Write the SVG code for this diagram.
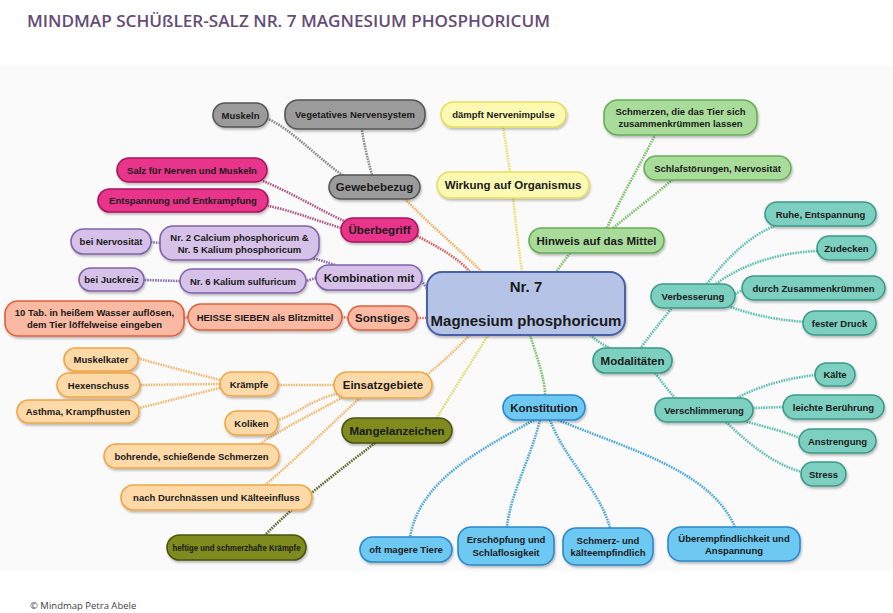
<svg xmlns="http://www.w3.org/2000/svg" width="893" height="613" viewBox="0 0 893 613">
<defs>
<filter id="sh" x="-20%" y="-30%" width="140%" height="170%"><feDropShadow dx="1" dy="2" stdDeviation="1.2" flood-color="#000" flood-opacity="0.25"/></filter>
<style>
text{font-family:"Liberation Sans",Arial,sans-serif;font-weight:bold;text-anchor:middle;fill:#1a1a1a;font-size:9.5px}
.t2{font-size:11.5px}
rect{stroke-width:1.6;filter:url(#sh)}
.gray{fill:#9b9b9b;stroke:#555}
.yel{fill:#fcfab2;stroke:#e6de5c}
.grn{fill:#a9dc9a;stroke:#66ad58}
.teal{fill:#7dcfc0;stroke:#3a9a88}
.blue{fill:#6ec9f2;stroke:#2a88cc}
.oli{fill:#7f8b1d;stroke:#4a5212}
.org{fill:#fdd9a8;stroke:#f0a545}
.mag{fill:#e8368b;stroke:#a8155c}
.pur{fill:#d6c1e8;stroke:#8262aa}
.sal{fill:#f9b9a2;stroke:#e0603c}
.ctr{fill:#b5c3e7;stroke:#4a5ea8;stroke-width:2}
#links path{fill:none;stroke-width:2.6;stroke-dasharray:1.6 1}
.lgray{stroke:#8a8a8a}.lyel{stroke:#e8e070}.lgrn{stroke:#7cc06a}.lteal{stroke:#5cbfb0}.lblue{stroke:#4aa6dc}
.loli{stroke:#5f6a2a}.lorg{stroke:#f2b870}.lmag{stroke:#b05a8a}.lpur{stroke:#8a70b0}.lsal{stroke:#e87a60}
.lred{stroke:#e06060}.llime{stroke:#d8e070}.lcg{stroke:#f0b060}
</style>
</defs>
<rect x="0" y="0" width="893" height="613" fill="#fff" style="filter:none;stroke:none"/>
<rect x="0" y="66" width="893" height="505" fill="#fafafa" style="filter:none;stroke:none"/>
<text x="27" y="27" textLength="523" lengthAdjust="spacingAndGlyphs" style="font-family:'Open Sans',sans-serif;font-weight:600;font-size:17px;text-anchor:start;fill:#654c78">MINDMAP SCHÜßLER-SALZ NR. 7 MAGNESIUM PHOSPHORICUM</text>
<text x="30" y="609" style="font-family:'Open Sans',sans-serif;font-weight:normal;font-size:9.5px;text-anchor:start;fill:#444">© Mindmap Petra Abele</text>

<g id="links">
<path class="lcg" d="M405,199 C430,225 460,250 482,272"/>
<path class="lred" d="M417,236 C440,248 458,258 470,272"/>
<path class="lpur" d="M421,281 C425,284 426,288 428,290"/>
<path class="lsal" d="M417,318 L428,318"/>
<path class="lyel" d="M513,198 C516,225 519,250 522,272"/>
<path class="lyel" d="M503,127 C506,145 508,158 510,172"/>
<path class="lgrn" d="M570,253 C565,260 560,266 556,272"/>
<path class="lgrn" d="M607,228 C622,195 640,165 655,135"/>
<path class="lgrn" d="M613,228 C635,210 655,195 672,180"/>
<path class="lteal" d="M590,335 C598,342 604,345 612,349"/>
<path class="lteal" d="M640,349 C650,335 662,320 672,308"/>
<path class="lteal" d="M707,284 C725,260 750,235 775,226"/>
<path class="lteal" d="M716,284 C745,262 785,252 818,251"/>
<path class="lteal" d="M735,294 L743,290"/>
<path class="lteal" d="M728,306 C760,318 785,320 804,322"/>
<path class="lteal" d="M655,373 C662,382 668,390 675,398"/>
<path class="lteal" d="M735,399 C760,385 790,378 815,375"/>
<path class="lteal" d="M753,408 L784,407"/>
<path class="lteal" d="M744,421 C770,428 785,432 800,438"/>
<path class="lteal" d="M726,422 C750,445 775,465 802,472"/>
<path class="lgrn" d="M530,335 C538,360 545,380 545,395"/>
<path class="lblue" d="M534,420 C480,450 420,480 410,537"/>
<path class="lblue" d="M540,420 C530,460 510,495 507,527"/>
<path class="lblue" d="M550,420 C565,460 600,490 610,528"/>
<path class="lblue" d="M558,420 C630,450 710,470 735,527"/>
<path class="lorg" d="M470,335 C455,350 440,365 425,376"/>
<path class="llime" d="M488,335 C470,365 450,395 437,418"/>
<path class="loli" d="M375,443 C340,470 300,500 265,535"/>
<path class="lorg" d="M334,385 L278,385"/>
<path class="lorg" d="M220,380 C190,372 160,365 138,358"/>
<path class="lorg" d="M220,384 L140,385"/>
<path class="lorg" d="M220,388 C190,395 165,402 139,408"/>
<path class="lorg" d="M340,393 C310,400 295,415 278,420"/>
<path class="lorg" d="M345,396 C310,415 280,430 260,444"/>
<path class="lorg" d="M360,398 C330,425 295,460 265,485"/>
<path class="lgray" d="M345,177 C320,160 290,128 268,119"/>
<path class="lgray" d="M372,175 C368,160 364,145 362,130"/>
<path class="lmag" d="M346,222 C320,210 290,192 263,181"/>
<path class="lmag" d="M341,228 C315,220 290,210 268,206"/>
<path class="lpur" d="M335,265 C326,262 318,259 310,258"/>
<path class="lpur" d="M316,278 L306,281"/>
<path class="lpur" d="M160,243 L151,242"/>
<path class="lpur" d="M180,281 L144,280"/>
<path class="lsal" d="M348,318 L342,317"/>
<path class="lsal" d="M188,317 L184,318"/>
</g>

<g id="center"><rect class="ctr" x="427" y="272" width="198" height="63" rx="15"/><text x="526" y="292" style="font-size:15px">Nr. 7</text><text x="526" y="326" style="font-size:15px">Magnesium phosphoricum</text></g>

<g id="muskeln"><rect class="gray" x="213" y="103" width="55" height="24" rx="12"/><text x="240.5" y="118.5">Muskeln</text></g>
<g id="vegetatives"><rect class="gray" x="285" y="100" width="140" height="29" rx="13"/><text x="355" y="117.5">Vegetatives Nervensystem</text></g>
<g id="gewebebezug"><rect class="gray" x="329" y="175" width="91" height="24" rx="12"/><text class="t2" x="374.5" y="191">Gewebebezug</text></g>

<g id="daempft"><rect class="yel" x="441" y="102" width="125" height="25" rx="12.5"/><text x="503.5" y="118">dämpft Nervenimpulse</text></g>
<g id="wirkung"><rect class="yel" x="437" y="172" width="152" height="26" rx="13"/><text class="t2" x="513" y="189">Wirkung auf Organismus</text></g>

<g id="schmerzen"><rect class="grn" x="604" y="100" width="153" height="35" rx="14"/><text x="680.5" y="114.5">Schmerzen, die das Tier sich</text><text x="680.5" y="126.5">zusammenkrümmen lassen</text></g>
<g id="schlaf"><rect class="grn" x="644" y="156" width="147" height="24" rx="12"/><text x="717.5" y="171.5">Schlafstörungen, Nervosität</text></g>
<g id="hinweis"><rect class="grn" x="529" y="228" width="135" height="25" rx="12.5"/><text class="t2" x="596.5" y="244.5">Hinweis auf das Mittel</text></g>

<g id="ruhe"><rect class="teal" x="765" y="202" width="111" height="24" rx="12"/><text x="820.5" y="217.5">Ruhe, Entspannung</text></g>
<g id="zudecken"><rect class="teal" x="817" y="236" width="59" height="24" rx="12"/><text x="846.5" y="251.5">Zudecken</text></g>
<g id="zusammen"><rect class="teal" x="742" y="276" width="143" height="24" rx="12"/><text x="813.5" y="291.5">durch Zusammenkrümmen</text></g>
<g id="druck"><rect class="teal" x="803" y="311" width="73" height="24" rx="12"/><text x="839.5" y="326.5">fester Druck</text></g>
<g id="verbesserung"><rect class="teal" x="651" y="284" width="84" height="24" rx="12"/><text x="693" y="299.5">Verbesserung</text></g>
<g id="modalitaeten"><rect class="teal" x="593" y="348" width="79" height="25" rx="12.5"/><text class="t2" x="632.5" y="364.5">Modalitäten</text></g>
<g id="verschlimmerung"><rect class="teal" x="655" y="398" width="98" height="24" rx="12"/><text x="704" y="413.5">Verschlimmerung</text></g>
<g id="kaelte"><rect class="teal" x="815" y="363" width="40" height="23" rx="11.5"/><text x="835" y="378">Kälte</text></g>
<g id="beruehrung"><rect class="teal" x="783" y="395" width="101" height="24" rx="12"/><text x="833.5" y="410.5">leichte Berührung</text></g>
<g id="anstrengung"><rect class="teal" x="799" y="429" width="77" height="24" rx="12"/><text x="837.5" y="444.5">Anstrengung</text></g>
<g id="stress"><rect class="teal" x="801" y="462" width="45" height="24" rx="12"/><text x="823.5" y="477.5">Stress</text></g>

<g id="konstitution"><rect class="blue" x="503" y="395" width="82" height="25" rx="12.5"/><text class="t2" x="544" y="411.5">Konstitution</text></g>
<g id="mager"><rect class="blue" x="360" y="537" width="92" height="25" rx="12.5"/><text x="406" y="553">oft magere Tiere</text></g>
<g id="erschoepfung"><rect class="blue" x="458" y="527" width="96" height="38" rx="13"/><text x="506" y="543">Erschöpfung und</text><text x="506" y="555.5">Schlaflosigkeit</text></g>
<g id="kaelteempf"><rect class="blue" x="563" y="528" width="90" height="37" rx="13"/><text x="608" y="543.5">Schmerz- und</text><text x="608" y="556">kälteempfindlich</text></g>
<g id="ueberempf"><rect class="blue" x="668" y="527" width="132" height="34" rx="13"/><text x="734" y="541.5">Überempfindlichkeit und</text><text x="734" y="553.5">Anspannung</text></g>

<g id="mangel"><rect class="oli" x="342" y="418" width="110" height="25" rx="12.5"/><text class="t2" x="397" y="434.5">Mangelanzeichen</text></g>
<g id="heftige"><rect class="oli" x="167" y="535" width="139" height="25" rx="12.5"/><text x="236.5" y="551" textLength="128" lengthAdjust="spacingAndGlyphs" style="font-size:9px">heftige und schmerzhafte Krämpfe</text></g>

<g id="einsatz"><rect class="org" x="334" y="372" width="98" height="26" rx="13"/><text class="t2" x="383" y="389">Einsatzgebiete</text></g>
<g id="kraempfe"><rect class="org" x="220" y="372" width="58" height="24" rx="12"/><text x="249" y="387.5">Krämpfe</text></g>
<g id="muskelkater"><rect class="org" x="64" y="348" width="74" height="23" rx="11.5"/><text x="101" y="363">Muskelkater</text></g>
<g id="hexenschuss"><rect class="org" x="57" y="373" width="83" height="24" rx="12"/><text x="98.5" y="388.5">Hexenschuss</text></g>
<g id="asthma"><rect class="org" x="17" y="400" width="122" height="23" rx="11.5"/><text x="78" y="415">Asthma, Krampfhusten</text></g>
<g id="koliken"><rect class="org" x="225" y="411" width="53" height="24" rx="12"/><text x="251.5" y="426.5">Koliken</text></g>
<g id="bohrende"><rect class="org" x="104" y="444" width="175" height="24" rx="12"/><text x="191.5" y="459.5">bohrende, schießende Schmerzen</text></g>
<g id="durchnaessen"><rect class="org" x="121" y="485" width="191" height="25" rx="12.5"/><text x="216.5" y="501">nach Durchnässen und Kälteeinfluss</text></g>

<g id="salz"><rect class="mag" x="117" y="158" width="150" height="24" rx="12"/><text x="192" y="173.5">Salz für Nerven und Muskeln</text></g>
<g id="entspannung"><rect class="mag" x="98" y="189" width="170" height="23" rx="11.5"/><text x="183" y="204">Entspannung und Entkrampfung</text></g>
<g id="ueberbegriff"><rect class="mag" x="341" y="218" width="77" height="24" rx="12"/><text class="t2" x="379.5" y="234">Überbegriff</text></g>

<g id="nervositaet"><rect class="pur" x="71" y="229" width="80" height="25" rx="12.5"/><text x="111" y="245">bei Nervosität</text></g>
<g id="nr2"><rect class="pur" x="160" y="226" width="159" height="34" rx="13"/><text x="239.5" y="240.5">Nr. 2 Calcium phosphoricum &amp;</text><text x="239.5" y="252.5">Nr. 5 Kalium phosphoricum</text></g>
<g id="juckreiz"><rect class="pur" x="79" y="268" width="65" height="23" rx="11.5"/><text x="111.5" y="283">bei Juckreiz</text></g>
<g id="nr6"><rect class="pur" x="180" y="269" width="126" height="24" rx="12"/><text x="243" y="284.5">Nr. 6 Kalium sulfuricum</text></g>
<g id="kombination"><rect class="pur" x="316" y="265" width="106" height="25" rx="12.5"/><text class="t2" x="369" y="281.5">Kombination mit</text></g>

<g id="zehntab"><rect class="sal" x="5" y="301" width="179" height="35" rx="13"/><text x="94.5" y="315.5">10 Tab. in heißem Wasser auflösen,</text><text x="94.5" y="327.5">dem Tier löffelweise eingeben</text></g>
<g id="heisse"><rect class="sal" x="188" y="304" width="154" height="26" rx="13"/><text x="265" y="320.5">HEISSE SIEBEN als Blitzmittel</text></g>
<g id="sonstiges"><rect class="sal" x="348" y="306" width="69" height="24" rx="12"/><text class="t2" x="382.5" y="322">Sonstiges</text></g>
</svg>
